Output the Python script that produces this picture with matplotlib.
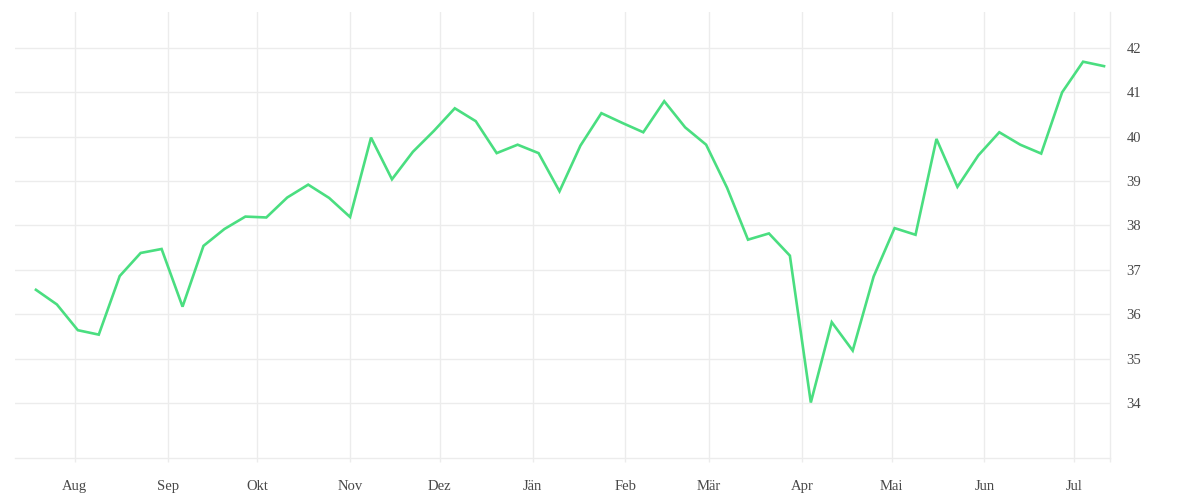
import matplotlib
matplotlib.use("Agg")
import matplotlib.pyplot as plt
import matplotlib.dates as mdates
from matplotlib.ticker import FixedLocator
import pandas as pd

# ---- data ----
start_date = "2024-07-19"
values = [36.55, 36.22, 35.64, 35.54, 36.86, 37.38, 37.47, 36.17, 37.54, 37.92,
          38.20, 38.18, 38.63, 38.92, 38.62, 38.19, 39.98, 39.04, 39.66, 40.13,
          40.64, 40.35, 39.63, 39.82, 39.63, 38.77, 39.80, 40.53, 40.31, 40.10,
          40.80, 40.21, 39.82, 38.85, 37.68, 37.82, 37.32, 34.01, 35.82, 35.18,
          36.85, 37.94, 37.79, 39.95, 38.87, 39.58, 40.10, 39.82, 39.62, 41.00,
          41.69, 41.59]
month_labels = ["Aug", "Sep", "Okt", "Nov", "Dez", "Jän", "Feb", "Mär", "Apr", "Mai", "Jun", "Jul"]
month_starts = ["2024-08-01", "2024-09-01", "2024-10-01", "2024-11-01", "2024-12-01",
                "2025-01-01", "2025-02-01", "2025-03-01", "2025-04-01", "2025-05-01",
                "2025-06-01", "2025-07-01"]
y_ticks = [34, 35, 36, 37, 38, 39, 40, 41, 42]

dates = pd.date_range(start=start_date, periods=len(values), freq="7D")

plt.rcParams['font.family'] = ['Liberation Serif', 'DejaVu Serif']

fig = plt.figure(figsize=(12, 5), dpi=100)
ax = fig.add_axes([0.0125, 0.084, 0.9125, 0.892])

grid_c = "#ececec"
text_c = "#484848"

ax.plot(dates, values, color="#4ade80", linewidth=1.9, solid_joinstyle="miter", zorder=3)

ax.set_xlim(pd.Timestamp("2024-07-12"), pd.Timestamp("2025-07-13"))
ax.set_ylim(32.76, 42.81)

ax.yaxis.tick_right()
ax.set_yticks(y_ticks)
ax.set_yticklabels([str(v) for v in y_ticks])
ax.tick_params(axis="y", length=0, pad=12, labelsize=10.5, labelcolor=text_c)

xt = [mdates.date2num(pd.Timestamp(d)) for d in month_starts]
ax.set_xticks(xt)
ax.set_xticklabels(month_labels)
ax.tick_params(axis="x", length=3, width=1, color=grid_c, pad=12.5, labelsize=10.5, labelcolor=text_c)
ax.xaxis.set_minor_locator(FixedLocator([mdates.date2num(pd.Timestamp("2025-07-13"))]))
ax.tick_params(axis="x", which="minor", length=3, width=1, color=grid_c)

ax.grid(True, color=grid_c, linewidth=1, zorder=0)
for s in ["top", "left"]:
    ax.spines[s].set_visible(False)
for s in ["bottom", "right"]:
    ax.spines[s].set_color(grid_c)
    ax.spines[s].set_linewidth(1)

fig.savefig("out.png", dpi=100, facecolor="white")
